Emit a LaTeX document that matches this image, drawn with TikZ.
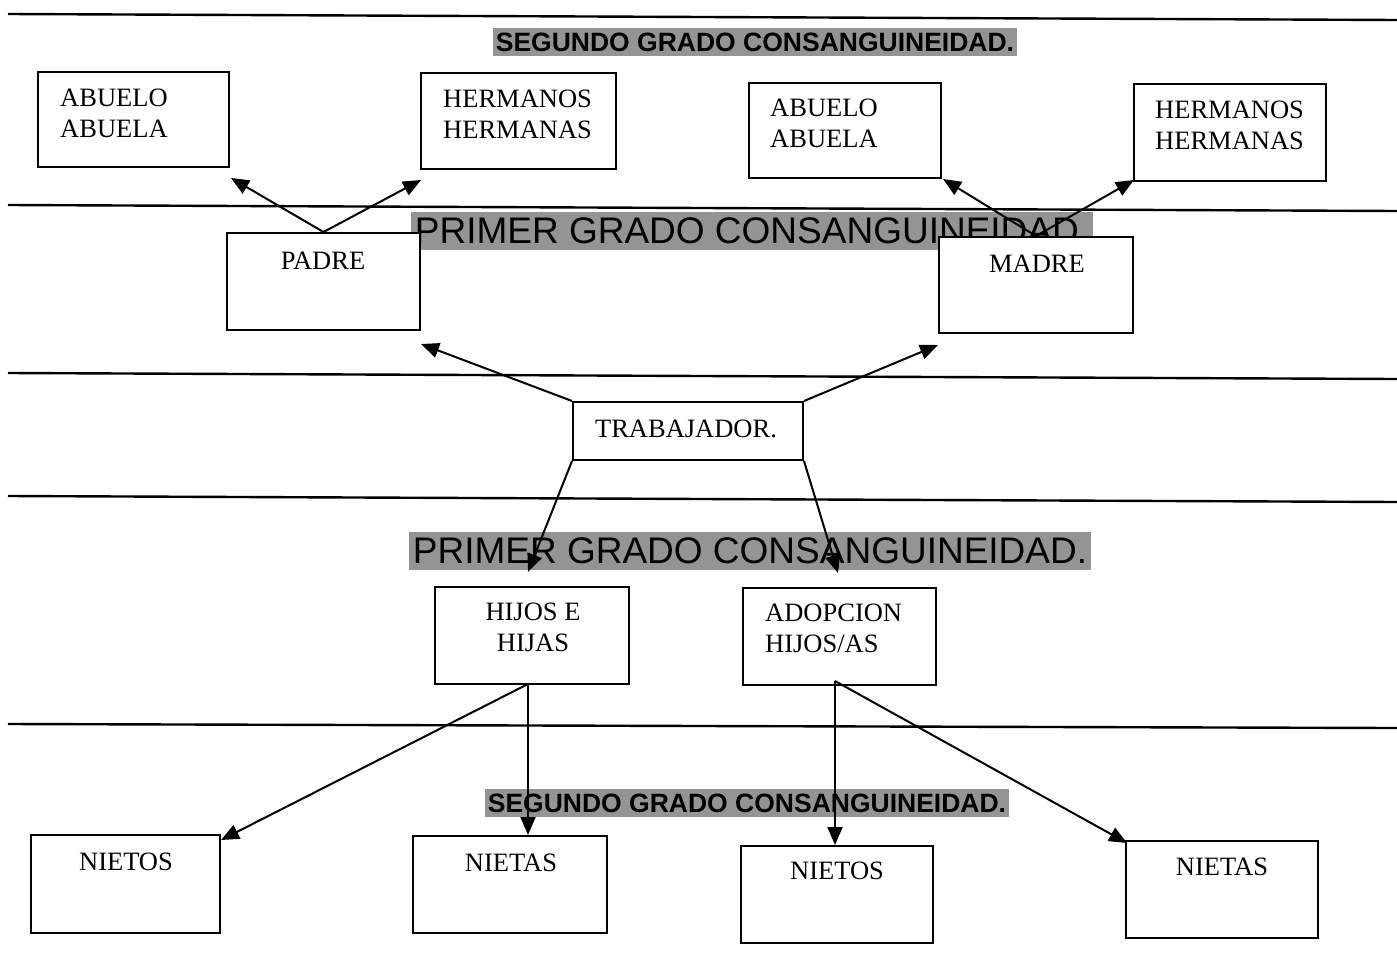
\documentclass[tikz,border=0pt]{standalone}
\usepackage{fontspec}
\setmainfont{Liberation Serif}
\newfontfamily\arialf{Liberation Sans}
\usetikzlibrary{arrows.meta}
\definecolor{hl}{gray}{0.58}
\begin{document}
\begin{tikzpicture}[x=1pt,y=-1pt,
  box/.style={draw, line width=2pt, fill=white, inner sep=0pt},
  txt/.style={inner sep=0pt, font=\fontsize{26.5}{31}\selectfont},
  seg/.style={fill=hl, inner xsep=3pt, inner ysep=0pt, minimum height=28pt, font=\arialf\bfseries\fontsize{26.5}{28}\selectfont},
  pri/.style={fill=hl, inner xsep=4pt, inner ysep=0pt, minimum height=38pt, font=\arialf\fontsize{37}{38}\selectfont},
  rule/.style={line width=2.4pt},
  conn/.style={line width=2pt, -{Triangle[length=18pt,width=15pt]}}
]
\useasboundingbox[fill=white] (0,0) rectangle (1397,969);

% horizontal rules
\draw[rule] (8,14) -- (1397,20);
\draw[rule] (8,205) -- (1397,211);
\draw[rule] (8,373) -- (1397,379);
\draw[rule] (8,496) -- (1397,502);
\draw[rule] (8,724) -- (1397,728);

% highlighted headings
\node[seg] (seg1) at (755,42) {SEGUNDO GRADO CONSANGUINEIDAD.};
\node[pri] (pri1) at (752,231) {PRIMER GRADO CONSANGUINEIDAD.};
\node[pri] (pri2) at (750,551) {PRIMER GRADO CONSANGUINEIDAD.};
\node[seg] (seg2) at (747,803) {SEGUNDO GRADO CONSANGUINEIDAD.};

% boxes
\node[box, minimum width=191pt, minimum height=95pt] (ab1) at (133.5,119.5) {};
\node[box, minimum width=195pt, minimum height=96pt] (he1) at (518.5,121) {};
\node[box, minimum width=192pt, minimum height=95pt] (ab2) at (845,130.5) {};
\node[box, minimum width=192pt, minimum height=97pt] (he2) at (1230,132.5) {};
\node[box, minimum width=193pt, minimum height=97pt] (padre) at (323.5,281.5) {};
\node[box, minimum width=194pt, minimum height=96pt] (madre) at (1036,285) {};
\node[box, minimum width=230pt, minimum height=58pt] (trab) at (688,431) {};
\node[box, minimum width=194pt, minimum height=97pt] (hijos) at (532,635.5) {};
\node[box, minimum width=193pt, minimum height=97pt] (adop) at (839.5,636.5) {};
\node[box, minimum width=189pt, minimum height=98pt] (nos1) at (125.5,884) {};
\node[box, minimum width=194pt, minimum height=97pt] (nas1) at (510,884.5) {};
\node[box, minimum width=192pt, minimum height=97pt] (nos2) at (837,894.5) {};
\node[box, minimum width=192pt, minimum height=97pt] (nas2) at (1222,889.5) {};

% box texts
\node[txt, anchor=north west, align=left] (tab1) at (60,89) {ABUELO\\ABUELA};
\node[txt, anchor=north west, align=left] (the1) at (443,90) {HERMANOS\\HERMANAS};
\node[txt, anchor=north west, align=left] (tab2) at (770,99) {ABUELO\\ABUELA};
\node[txt, anchor=north west, align=left] (the2) at (1155,101) {HERMANOS\\HERMANAS};
\node[txt, anchor=north] (tpadre) at (323,252) {PADRE};
\node[txt, anchor=north] (tmadre) at (1037,255) {MADRE};
\node[txt, anchor=north] (ttrab) at (686,420) {TRABAJADOR.};
\node[txt, anchor=north, align=center] (thijos) at (533,603) {HIJOS E\\HIJAS};
\node[txt, anchor=north west, align=left] (tadop) at (765,604) {ADOPCION\\HIJOS/AS};
\node[txt, anchor=north] (tnos1) at (126,853) {NIETOS};
\node[txt, anchor=north] (tnas1) at (511,854) {NIETAS};
\node[txt, anchor=north] (tnos2) at (837,862) {NIETOS};
\node[txt, anchor=north] (tnas2) at (1222,858) {NIETAS};

% arrow end points
\coordinate (e1) at (231,178);
\coordinate (e2) at (421,180);
\coordinate (e3) at (943,179);
\coordinate (e4) at (1134,180);
\coordinate (e5) at (421,344);
\coordinate (e6) at (938,345);
\coordinate (e7) at (528,572);
\coordinate (e8) at (838,573);
\coordinate (e9) at (221,840);
\coordinate (hb) at (528,684);
\coordinate (e10) at (528,835);
\coordinate (ab) at (835,681);
\coordinate (e11) at (835,845);
\coordinate (e12) at (1127,843);

% connectors
\draw[conn] (padre.north) -- (e1);
\draw[conn] (padre.north) -- (e2);
\draw[conn] (madre.north) -- (e3);
\draw[conn] (madre.north) -- (e4);
\draw[conn] (trab.north west) -- (e5);
\draw[conn] (trab.north east) -- (e6);
\draw[conn] (trab.south west) -- (e7);
\draw[conn] (trab.south east) -- (e8);
\draw[conn] (hb) -- (e9);
\draw[conn] (hb) -- (e10);
\draw[conn] (ab) -- (e11);
\draw[conn] (ab) -- (e12);
\end{tikzpicture}
\end{document}
